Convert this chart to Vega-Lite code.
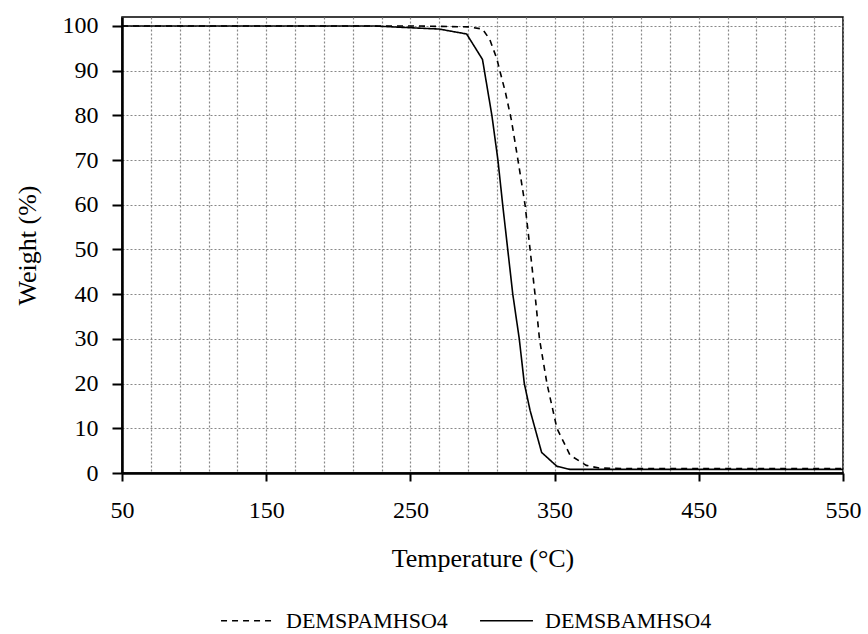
{
  "$schema": "https://vega.github.io/schema/vega-lite/v6.json",
  "autosize": "none",
  "width": 721,
  "height": 456,
  "padding": {"left": 122, "top": 17, "right": 25, "bottom": 161},
  "background": "white",
  "config": {
    "view": {"stroke": "#000000", "strokeWidth": 1.5},
    "font": "Liberation Serif"
  },
  "data": {
    "values": [
      {"t": 50, "w": 100, "s": "DEMSPAMHSO4"},
      {"t": 150, "w": 100, "s": "DEMSPAMHSO4"},
      {"t": 250, "w": 100, "s": "DEMSPAMHSO4"},
      {"t": 290, "w": 99.8, "s": "DEMSPAMHSO4"},
      {"t": 300, "w": 99.3, "s": "DEMSPAMHSO4"},
      {"t": 305, "w": 97, "s": "DEMSPAMHSO4"},
      {"t": 310, "w": 92.6, "s": "DEMSPAMHSO4"},
      {"t": 312, "w": 90, "s": "DEMSPAMHSO4"},
      {"t": 316, "w": 85, "s": "DEMSPAMHSO4"},
      {"t": 320, "w": 79, "s": "DEMSPAMHSO4"},
      {"t": 324.6, "w": 70, "s": "DEMSPAMHSO4"},
      {"t": 329.5, "w": 60, "s": "DEMSPAMHSO4"},
      {"t": 333, "w": 50, "s": "DEMSPAMHSO4"},
      {"t": 336.4, "w": 40, "s": "DEMSPAMHSO4"},
      {"t": 339.5, "w": 30, "s": "DEMSPAMHSO4"},
      {"t": 344.7, "w": 20, "s": "DEMSPAMHSO4"},
      {"t": 351.6, "w": 10, "s": "DEMSPAMHSO4"},
      {"t": 360.7, "w": 4, "s": "DEMSPAMHSO4"},
      {"t": 372, "w": 1.7, "s": "DEMSPAMHSO4"},
      {"t": 381, "w": 1.1, "s": "DEMSPAMHSO4"},
      {"t": 400, "w": 1.0, "s": "DEMSPAMHSO4"},
      {"t": 550, "w": 1.0, "s": "DEMSPAMHSO4"},
      {"t": 50, "w": 100, "s": "DEMSBAMHSO4"},
      {"t": 150, "w": 100, "s": "DEMSBAMHSO4"},
      {"t": 224, "w": 100, "s": "DEMSBAMHSO4"},
      {"t": 250, "w": 99.6, "s": "DEMSBAMHSO4"},
      {"t": 270, "w": 99.3, "s": "DEMSBAMHSO4"},
      {"t": 289, "w": 98.2, "s": "DEMSBAMHSO4"},
      {"t": 300, "w": 92.5, "s": "DEMSBAMHSO4"},
      {"t": 306.5, "w": 80, "s": "DEMSBAMHSO4"},
      {"t": 310.7, "w": 70, "s": "DEMSBAMHSO4"},
      {"t": 314, "w": 60, "s": "DEMSBAMHSO4"},
      {"t": 317.5, "w": 50, "s": "DEMSBAMHSO4"},
      {"t": 321, "w": 40, "s": "DEMSBAMHSO4"},
      {"t": 325.5, "w": 30, "s": "DEMSBAMHSO4"},
      {"t": 329, "w": 20, "s": "DEMSBAMHSO4"},
      {"t": 333, "w": 14, "s": "DEMSBAMHSO4"},
      {"t": 341, "w": 4.6, "s": "DEMSBAMHSO4"},
      {"t": 351.6, "w": 1.5, "s": "DEMSBAMHSO4"},
      {"t": 360.7, "w": 0.8, "s": "DEMSBAMHSO4"},
      {"t": 450, "w": 0.8, "s": "DEMSBAMHSO4"},
      {"t": 550, "w": 0.8, "s": "DEMSBAMHSO4"}
    ]
  },
  "mark": {"type": "line", "color": "#000000", "strokeWidth": 1.6, "clip": true},
  "encoding": {
    "x": {
      "field": "t",
      "type": "quantitative",
      "scale": {"domain": [50, 550], "nice": false, "zero": false},
      "axis": {
        "title": "Temperature (°C)",
        "values": [50, 70, 90, 110, 130, 150, 170, 190, 210, 230, 250, 270, 290, 310, 330, 350, 370, 390, 410, 430, 450, 470, 490, 510, 530, 550],
        "labelExpr": "(datum.value - 50) % 100 === 0 ? datum.label : ''",
        "labelFont": "Liberation Serif",
        "labelFontSize": 24,
        "labelColor": "#000000",
        "labelPadding": 17,
        "labelFlush": false,
        "labelOverlap": false,
        "titleFont": "Liberation Serif",
        "titleFontSize": 26,
        "titleFontWeight": "normal",
        "titleColor": "#000000",
        "titlePadding": 23,
        "domainColor": "#000000",
        "domainWidth": 2.5,
        "tickColor": "#000000",
        "tickWidth": 2,
        "tickSize": 8,
        "tickOpacity": {"condition": {"test": "(datum.value - 50) % 100 === 0", "value": 1}, "value": 0},
        "grid": true,
        "gridColor": "#888888",
        "gridDash": [2, 2],
        "gridWidth": 1.2
      }
    },
    "y": {
      "field": "w",
      "type": "quantitative",
      "scale": {"domain": [0, 102], "nice": false},
      "axis": {
        "title": "Weight (%)",
        "values": [0, 10, 20, 30, 40, 50, 60, 70, 80, 90, 100],
        "labelFont": "Liberation Serif",
        "labelFontSize": 24,
        "labelColor": "#000000",
        "labelPadding": 14,
        "titleFont": "Liberation Serif",
        "titleFontSize": 26,
        "titleFontWeight": "normal",
        "titleColor": "#000000",
        "titlePadding": 22,
        "domainColor": "#000000",
        "domainWidth": 2.5,
        "tickColor": "#000000",
        "tickWidth": 2,
        "tickSize": 10,
        "grid": true,
        "gridColor": "#888888",
        "gridDash": [2, 2],
        "gridWidth": 1.2
      }
    },
    "strokeDash": {
      "field": "s",
      "type": "nominal",
      "scale": {"domain": ["DEMSPAMHSO4", "DEMSBAMHSO4"], "range": [[6, 5], [1, 0]]},
      "legend": {
        "title": null,
        "orient": "none",
        "direction": "horizontal",
        "legendX": 98,
        "legendY": 576,
        "symbolType": "stroke",
        "symbolSize": 2800,
        "symbolStrokeWidth": 1.6,
        "symbolStrokeColor": "#000000",
        "labelFont": "Liberation Serif",
        "labelFontSize": 22,
        "labelColor": "#000000",
        "labelLimit": 0,
        "labelOffset": 11,
        "columnPadding": 28
      }
    }
  }
}
